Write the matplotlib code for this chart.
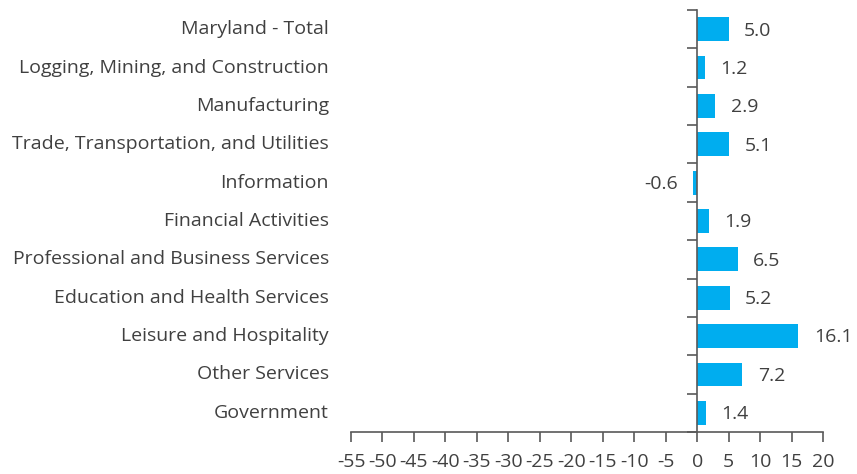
import numpy as np
import matplotlib.pyplot as plt
from matplotlib import transforms

plt.rcParams['font.family'] = ['Open Sans', 'DejaVu Sans']
plt.rcParams['axes.unicode_minus'] = False

categories = [
    'Maryland - Total',
    'Logging, Mining, and Construction',
    'Manufacturing',
    'Trade, Transportation, and Utilities',
    'Information',
    'Financial Activities',
    'Professional and Business Services',
    'Education and Health Services',
    'Leisure and Hospitality',
    'Other Services',
    'Government',
]
values = [5.0, 1.2, 2.9, 5.1, -0.6, 1.9, 6.5, 5.2, 16.1, 7.2, 1.4]
xticks = list(range(-55, 21, 5))

text_color = '#404040'
axis_color = '#595959'
bar_color = '#00ADEF'

fig = plt.figure(figsize=(8.57, 4.74), dpi=100)
ax = fig.add_axes([351 / 857, 1 - 432 / 474, (823 - 351) / 857, (432 - 10) / 474])

y = np.arange(len(categories))
ax.barh(y, values, height=0.62, color=bar_color, zorder=2)

ax.set_xlim(-55, 20)
ax.set_ylim(len(categories) - 0.5, -0.5)

# value labels
for yi, v in zip(y, values):
    off = 11 if v >= 0 else -11
    ax.annotate(f'{v:.1f}', (v, yi), xytext=(off, -1), textcoords='offset points',
                ha='left' if v >= 0 else 'right', va='center',
                fontsize=14, color=text_color)

# category labels left of the plot area
trans = transforms.blended_transform_factory(ax.transAxes, ax.transData)
for yi, name in zip(y, categories):
    ax.text(-0.047, yi, name, transform=trans, ha='right', va='center',
            fontsize=14, color=text_color)

# zero axis with ticks between categories
ax.spines['left'].set_position(('data', 0))
ax.spines['left'].set_color(axis_color)
ax.set_yticks([])
ax.set_yticks(np.arange(len(categories) + 1) - 0.5, minor=True)
ax.tick_params(axis='y', which='minor', length=7, width=1.2, color=axis_color,
               direction='out', labelleft=False)

for s in ('top', 'right'):
    ax.spines[s].set_visible(False)
ax.spines['bottom'].set_color(axis_color)
ax.spines['bottom'].set_linewidth(1.2)
ax.spines['left'].set_linewidth(1.2)

ax.set_xticks(xticks)
ax.set_xticklabels([str(t) for t in xticks])
ax.tick_params(axis='x', length=7, width=1.2, color=axis_color, direction='out',
               labelsize=14, labelcolor=text_color, pad=8)

fig.savefig('out.png', dpi=100)
